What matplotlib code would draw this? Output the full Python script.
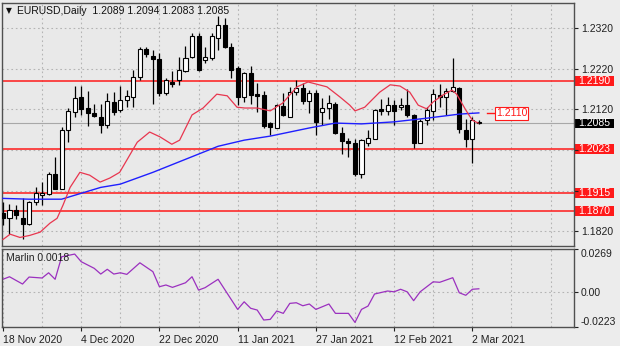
import matplotlib
matplotlib.use('Agg')
import matplotlib.pyplot as plt
from matplotlib.patches import Rectangle
import matplotlib.transforms as mtransforms

plt.rcParams['font.family'] = ['Liberation Sans', 'DejaVu Sans']

# daily candles, 18 Nov 2020 .. 3 Mar 2021
opens = [1.1864, 1.1854, 1.1872, 1.1854, 1.1839, 1.1892, 1.1909, 1.1911, 1.1962, 1.1925,
         1.2069, 1.2114, 1.2151, 1.2122, 1.2111, 1.2102, 1.2081, 1.2137, 1.2118, 1.2143,
         1.2151, 1.2198, 1.2268, 1.2252, 1.2243, 1.2159, 1.2186, 1.2192, 1.2214, 1.2249,
         1.2299, 1.2240, 1.2245, 1.2296, 1.2327, 1.2274, 1.2221, 1.2151, 1.2208, 1.2157,
         1.2155, 1.2087, 1.2075, 1.2129, 1.2102, 1.2162, 1.2171, 1.2140, 1.2161, 1.2112,
         1.2122, 1.2134, 1.2061, 1.2043, 1.2036, 1.1960, 1.2038, 1.2048, 1.2120, 1.2116,
         1.2130, 1.2125, 1.2130, 1.2106, 1.2036, 1.2093, 1.2116, 1.2155, 1.2151, 1.2166,
         1.2173, 1.2070, 1.2048, 1.2089]
highs = [1.1891, 1.1888, 1.1884, 1.1902, 1.1895, 1.1929, 1.1941, 1.1966, 1.2003, 1.2077,
         1.2122, 1.2178, 1.2178, 1.2165, 1.2132, 1.2134, 1.2159, 1.2163, 1.2178, 1.2167,
         1.2217, 1.2274, 1.2274, 1.2266, 1.2258, 1.2196, 1.2214, 1.2249, 1.2276, 1.2307,
         1.2307, 1.2274, 1.2307, 1.2349, 1.2344, 1.2282, 1.2225, 1.2212, 1.2225, 1.2184,
         1.2165, 1.2089, 1.2132, 1.2159, 1.2175, 1.2192, 1.2184, 1.2167, 1.2167, 1.2147,
         1.2155, 1.2137, 1.2077, 1.2050, 1.2047, 1.2048, 1.2069, 1.2120, 1.2145, 1.2151,
         1.2143, 1.2148, 1.2170, 1.2109, 1.2096, 1.2126, 1.2170, 1.2181, 1.2171, 1.2247,
         1.2175, 1.2097, 1.2102, 1.2094]
lows = [1.1836, 1.1814, 1.1851, 1.1802, 1.1835, 1.1884, 1.1884, 1.1909, 1.1923, 1.1923,
        1.2040, 1.2102, 1.2106, 1.2079, 1.2102, 1.2061, 1.2075, 1.2107, 1.2114, 1.2126,
        1.2126, 1.2192, 1.2249, 1.2132, 1.2153, 1.2155, 1.2175, 1.2180, 1.2212, 1.2247,
        1.2214, 1.2233, 1.2241, 1.2266, 1.2270, 1.2196, 1.2130, 1.2137, 1.2134, 1.2112,
        1.2073, 1.2056, 1.2073, 1.2104, 1.2102, 1.2155, 1.2132, 1.2110, 1.2056, 1.2081,
        1.2096, 1.2058, 1.2011, 1.2003, 1.1956, 1.1950, 1.2030, 1.2047, 1.2106, 1.2106,
        1.2081, 1.2118, 1.2102, 1.2024, 1.2036, 1.2081, 1.2093, 1.2126, 1.2107, 1.2162,
        1.2061, 1.2028, 1.1989, 1.2083]
closes = [1.1853, 1.1872, 1.1860, 1.1839, 1.1892, 1.1914, 1.1915, 1.1962, 1.1925, 1.2069,
          1.2116, 1.2147, 1.2120, 1.2110, 1.2104, 1.2081, 1.2140, 1.2114, 1.2143, 1.2152,
          1.2200, 1.2268, 1.2256, 1.2244, 1.2161, 1.2192, 1.2181, 1.2217, 1.2247, 1.2299,
          1.2217, 1.2249, 1.2299, 1.2327, 1.2272, 1.2217, 1.2151, 1.2208, 1.2155, 1.2153,
          1.2079, 1.2077, 1.2130, 1.2106, 1.2163, 1.2171, 1.2140, 1.2159, 1.2088, 1.2122,
          1.2136, 1.2061, 1.2042, 1.2036, 1.1960, 1.2044, 1.2050, 1.2118, 1.2116, 1.2130,
          1.2116, 1.2130, 1.2106, 1.2036, 1.2091, 1.2118, 1.2157, 1.2149, 1.2165, 1.2175,
          1.2071, 1.2048, 1.2093, 1.2085]

# moving averages (bar index, price)
ma_slow_x = [0, 4, 9, 15, 18, 23, 28, 33, 37, 41, 47, 51, 55, 60, 65, 70, 73]
ma_slow_y = [1.1901, 1.1899, 1.1899, 1.1928, 1.1936, 1.1965, 1.1997, 1.2029, 1.2044, 1.2054,
             1.2074, 1.2086, 1.2084, 1.2089, 1.2098, 1.2108, 1.2111]
ma_fast_x = [0, 1.1, 2.6, 4.1, 5.7, 7.2, 8.3, 9.2, 10.3, 11.8, 13.3, 14.9, 16.4, 17.9, 20.6,
             22.5, 24.1, 25.9, 27.1, 29.0, 30.7, 32.8, 34.4, 35.9, 37.1, 39.0, 41.0, 42.9,
             45.1, 46.8, 49.7, 51.7, 53.2, 54.0, 55.5, 56.3, 57.8, 59.4, 60.9, 62.4, 63.7,
             65.0, 66.0, 67.5, 68.9, 69.6, 71.0, 72.0, 72.9]
ma_fast_y = [1.1800, 1.1813, 1.1805, 1.1810, 1.1818, 1.1840, 1.1852, 1.1884, 1.1928, 1.1965,
             1.1958, 1.1941, 1.1951, 1.1965, 1.2039, 1.2064, 1.2052, 1.2034, 1.2044, 1.2106,
             1.2123, 1.2157, 1.2153, 1.2125, 1.2123, 1.2123, 1.2116, 1.2135, 1.2175, 1.2187,
             1.2175, 1.2150, 1.2130, 1.2116, 1.2125, 1.2138, 1.2162, 1.2180, 1.2177, 1.2162,
             1.2130, 1.2121, 1.2138, 1.2155, 1.2167, 1.2157, 1.2118, 1.2093, 1.2086]

# Marlin oscillator (bar index, value)
marlin_x = [0, 1, 3, 4, 6, 7, 8, 9, 11, 12, 14, 15, 16, 17, 18, 19, 21, 23, 24, 25, 26, 28,
            29, 30, 31, 33, 36, 37, 38, 39, 40, 41, 42, 43, 44, 45, 46, 47, 48, 50, 51, 53,
            54, 55, 56, 57, 59, 60, 61, 62, 63, 64, 66, 67, 69, 70, 71, 72, 73]
marlin_y = [0.0078, 0.0094, 0.0048, 0.0092, 0.0086, 0.0119, 0.0078, 0.0220, 0.0237, 0.0189,
            0.0147, 0.0111, 0.0141, 0.0111, 0.0119, 0.0109, 0.0182, 0.0126, 0.0031, 0.0042,
            0.0027, 0.0056, 0.0094, 0.0010, 0.0025, 0.0078, -0.0112, -0.0064, -0.0105,
            -0.0116, -0.0179, -0.0175, -0.0122, -0.0137, -0.0074, -0.0070, -0.0089, -0.0078,
            -0.0112, -0.0078, -0.0137, -0.0137, -0.0194, -0.0112, -0.0091, -0.0015, 0.0004,
            -0.0001, 0.0015, -0.0001, -0.0057, -0.0001, 0.0062, 0.0059, 0.0088, -0.0007,
            -0.0023, 0.0015, 0.0018]

levels = [1.2190, 1.2023, 1.1915, 1.1870]
target = 1.2110
price_ticks = [1.1820, 1.1920, 1.2020, 1.2120, 1.2220, 1.2320]
price_labels = ['1.1820', '', '', '1.2120', '1.2220', '1.2320']
date_ticks = [0, 12, 24, 36, 48, 60, 72]
date_labels = ['18 Nov 2020', '4 Dec 2020', '22 Dec 2020', '11 Jan 2021', '27 Jan 2021',
               '12 Feb 2021', '2 Mar 2021']

bg = '#e9e9e9'
grid_c = '#b4b4b4'
spine_c = '#505050'
dots = (0, (1.5, 2.5))
fs = 7.5

fig = plt.figure(figsize=(6.2, 3.46), dpi=100, facecolor='#ececec')
ax = fig.add_axes([2 / 620, 100 / 346, 572 / 620, 243 / 346], facecolor=bg)
ax2 = fig.add_axes([2 / 620, 19 / 346, 572 / 620, 78 / 346], facecolor=bg)

xmin, xmax = -0.15, 87.6
idx = list(range(len(opens)))

# candles
ax.vlines(idx, lows, highs, color='black', lw=0.9, zorder=3)
bottoms = [min(o, c) for o, c in zip(opens, closes)]
heights = [max(abs(c - o), 0.00008) for o, c in zip(opens, closes)]
faces = ['white' if c >= o else 'black' for o, c in zip(opens, closes)]
ax.bar(idx, heights, bottom=bottoms, width=0.62, color=faces, edgecolor='black',
       lw=0.8, zorder=4)

ax.plot(ma_slow_x, ma_slow_y, color='#1f1fff', lw=1.0, zorder=5)
ax.plot(ma_fast_x, ma_fast_y, color='#e8364f', lw=0.9, zorder=5)

ax.axhline(closes[-1], color='#a8a8a8', lw=0.8, zorder=1)
for lvl in levels:
    ax.axhline(lvl, color='#ff1a1a', lw=1.1, zorder=2)

ax.set_xlim(xmin, xmax)
ax.set_ylim(1.1784, 1.2381)
ax.set_xticks(range(6, 88, 6))
ax.tick_params(axis='x', length=0, labelbottom=False)
ax.yaxis.tick_right()
ax.set_yticks(price_ticks)
ax.set_yticklabels(price_labels)
ax.tick_params(axis='y', length=3, width=0.8, pad=2, labelsize=fs, colors='#202020')
ax.grid(True, ls=dots, color=grid_c, lw=0.8, zorder=0)
for s in ax.spines.values():
    s.set_color(spine_c)
    s.set_linewidth(1.0)

# right-side price boxes
trans = mtransforms.blended_transform_factory(ax.transAxes, ax.transData)
box_w = 39 / 572
box_h = 0.0024
for lvl in levels:
    ax.add_patch(Rectangle((1.002, lvl - box_h / 2), box_w, box_h, transform=trans,
                           facecolor='#ff1a1a', edgecolor='none', clip_on=False))
    ax.text(1.002 + box_w / 2, lvl, f'{lvl:.4f}', transform=trans, ha='center',
            va='center', color='white', fontsize=fs)
ax.add_patch(Rectangle((1.002, closes[-1] - box_h / 2), box_w, box_h, transform=trans,
                       facecolor='black', edgecolor='none', clip_on=False))
ax.text(1.002 + box_w / 2, closes[-1], f'{closes[-1]:.4f}', transform=trans,
        ha='center', va='center', color='white', fontsize=fs)

# target label
ax.plot([74.3, 75.3], [target, target], color='#ff1a1a', lw=1.0, zorder=5)
ax.text(75.6, target, f'{target:.4f}', color='#ff1a1a', fontsize=fs, va='center',
        ha='left', zorder=6,
        bbox=dict(boxstyle='square,pad=0.12', fc='white', ec='#ff1a1a', lw=0.8))

fig.text(6 / 620, 1 - 10.5 / 346, '\u25bc', fontsize=5.5, va='center',
         family='DejaVu Sans', color='#101010')
fig.text(17 / 620, 1 - 10.5 / 346,
         f'EURUSD,Daily  {opens[-1]:.4f} {highs[-1]:.4f} {lows[-1]:.4f} {closes[-1]:.4f}',
         fontsize=fs, va='center', color='#101010')

# lower panel
ax2.plot(marlin_x, marlin_y, color='#9b30bf', lw=0.9)
ax2.axhline(0, ls=dots, color=grid_c, lw=0.8, zorder=0)
ax2.set_xlim(xmin, xmax)
ax2.set_ylim(-0.0223, 0.0269)
ax2.set_xticks(date_ticks)
ax2.set_xticklabels(date_labels, ha='left')
ax2.set_xticks([t for t in range(6, 88, 6) if t not in date_ticks], minor=True)
ax2.tick_params(axis='x', which='major', length=3, width=0.8, pad=3, labelsize=fs,
                colors='#202020')
ax2.tick_params(axis='x', which='minor', length=0)
ax2.grid(True, axis='x', which='both', ls=dots, color=grid_c, lw=0.8)
ax2.yaxis.tick_right()
ax2.set_yticks([-0.0223, 0.0, 0.0269])
ax2.set_yticklabels(['-0.0223', '0.00', '0.0269'])
ax2.tick_params(axis='y', length=3, width=0.8, pad=2, labelsize=fs, colors='#202020')
ylab = ax2.get_yticklabels()
ylab[0].set_va('bottom')
ylab[2].set_va('top')
for s in ax2.spines.values():
    s.set_color(spine_c)
    s.set_linewidth(1.0)
ax2.text(0.007, 0.88, f'Marlin {marlin_y[-1]:.4f}', transform=ax2.transAxes,
         fontsize=fs, va='center', color='#202020')

fig.savefig('out.png', dpi=100, facecolor=fig.get_facecolor())
